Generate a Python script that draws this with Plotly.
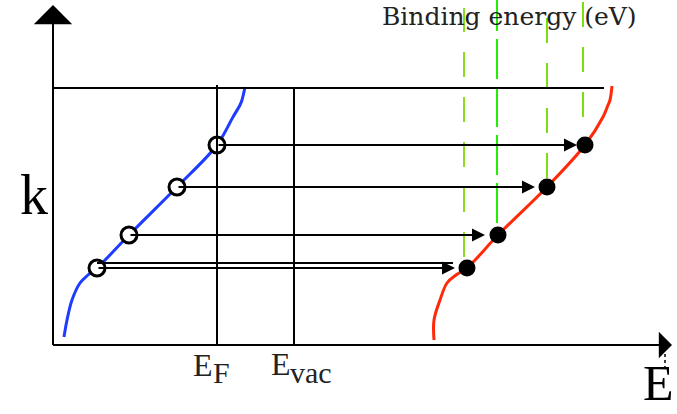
import plotly.graph_objects as go

# Schematic coordinates: energy (horizontal) and k (vertical), arbitrary units
# --- Initial-state band (blue) ---
band_E = [11, 14, 19, 27, 35, 44, 76, 124, 164, 180, 187, 189, 192]
band_k = [8, 25, 45, 62, 70, 77, 110, 158, 200, 228, 240, 245, 258]
# --- Photoemitted band (red) ---
photo_E = [381, 381, 387, 394, 403, 414, 445, 494, 532, 550, 555, 557, 559]
photo_k = [5, 25, 45, 62, 70, 77, 110, 158, 200, 228, 240, 245, 259]
# --- States (open circles) and photoelectrons (filled dots) ---
state_E = [44, 76, 124, 164]
state_k = [77, 110, 158, 200]
elec_E = [414, 445, 494, 532]
arrow_tip_E = [402, 432, 482, 524]
# extra parallel line at lowest state
double_k = 82
double_end_E = 400
# --- Reference levels ---
E_F = 164
E_vac = 241
k_top = 257
top_end_E = 551
axis_E_end = 619
axis_k_end = 340
# --- Binding-energy guides (green dashed) ---
guide_E = [411, 444, 494, 530]
guide_k_low = [88, 122, 167, 228]
guide_k_high = [337, 345, 335, 345]
guide_colors = ["#8ddc22", "#22ee00", "#7ade10", "#7ade10"]

fig = go.Figure()

black = "#000000"
shapes = []
# axes
shapes.append(dict(type="line", x0=0, x1=axis_E_end - 25, y0=0, y1=0, line=dict(color=black, width=2)))
shapes.append(dict(type="line", x0=0, x1=0, y0=0, y1=axis_k_end - 25, line=dict(color=black, width=2)))
# top line
shapes.append(dict(type="line", x0=0, x1=top_end_E, y0=k_top, y1=k_top, line=dict(color=black, width=2)))
# E_F and E_vac verticals
shapes.append(dict(type="line", x0=E_F, x1=E_F, y0=0, y1=k_top + 3, line=dict(color=black, width=2)))
shapes.append(dict(type="line", x0=E_vac, x1=E_vac, y0=0, y1=k_top, line=dict(color=black, width=2)))
# double line
shapes.append(dict(type="line", x0=state_E[0], x1=double_end_E, y0=double_k, y1=double_k, line=dict(color=black, width=2)))
# green guides
for gx, kl, kh, c in zip(guide_E, guide_k_low, guide_k_high, guide_colors):
    shapes.append(dict(type="line", x0=gx, x1=gx, y0=kl, y1=kh, layer="below",
                       line=dict(color=c, width=2, dash="25px,20px" if c != "#22ee00" else "40px,8px")))
# small dotted tick above bottom-right E
shapes.append(dict(type="line", x0=612, x1=612, y0=-3, y1=-22, line=dict(color=black, width=1.5, dash="dot")))

fig.update_layout(shapes=shapes)

# curves
fig.add_trace(go.Scatter(x=band_E, y=band_k, mode="lines", line=dict(color="#1e3cff", width=3, shape="spline"),
                         hoverinfo="skip"))
fig.add_trace(go.Scatter(x=photo_E, y=photo_k, mode="lines", line=dict(color="#ff2a0a", width=3, shape="spline"),
                         hoverinfo="skip"))

annotations = []
# horizontal transition arrows
for sE, k, tE in zip(state_E, state_k, arrow_tip_E):
    annotations.append(dict(x=tE, y=k, ax=sE, ay=k, xref="x", yref="y", axref="x", ayref="y",
                            showarrow=True, arrowhead=2, arrowsize=1.3, arrowwidth=2, arrowcolor=black,
                            standoff=0, startstandoff=0, text=""))
# axis arrows
annotations.append(dict(x=0, y=axis_k_end, ax=0, ay=axis_k_end - 30, xref="x", yref="y", axref="x", ayref="y",
                        showarrow=True, arrowhead=1, arrowsize=3.2, arrowwidth=2, arrowcolor=black, text=""))
annotations.append(dict(x=axis_E_end, y=0, ax=axis_E_end - 30, ay=0, xref="x", yref="y", axref="x", ayref="y",
                        showarrow=True, arrowhead=1, arrowsize=2.2, arrowwidth=2, arrowcolor=black, text=""))
fig.update_layout(annotations=annotations)

# markers
fig.add_trace(go.Scatter(x=state_E, y=state_k, mode="markers",
                         marker=dict(size=16, color="white", line=dict(color=black, width=3)), hoverinfo="skip"))
fig.add_trace(go.Scatter(x=elec_E, y=state_k, mode="markers",
                         marker=dict(size=17, color=black), hoverinfo="skip"))

serif = "Liberation Serif"
texts = [
    dict(x=456, y=329, text="Binding energy (eV)", size=25, color="#222222", family="DejaVu Serif"),
    dict(x=-19, y=150, text="k", size=56, color=black, family=serif),
    dict(x=150, y=-20, text="E", size=32, color="#222222", family=serif),
    dict(x=168, y=-27, text="F", size=30, color="#222222", family=serif),
    dict(x=228, y=-19, text="E", size=32, color="#222222", family=serif),
    dict(x=258, y=-27, text="vac", size=30, color="#222222", family=serif),
    dict(x=605, y=-38, text="E", size=50, color=black, family=serif),
]
for t in texts:
    fig.add_annotation(x=t["x"], y=t["y"], text=t["text"], showarrow=False, xref="x", yref="y",
                       font=dict(family=t["family"], size=t["size"], color=t["color"]))

fig.update_layout(
    width=677, height=414, margin=dict(l=0, r=0, t=0, b=0),
    paper_bgcolor="white", plot_bgcolor="white", showlegend=False,
    xaxis=dict(range=[-53, 624], visible=False, fixedrange=True),
    yaxis=dict(range=[-69, 345], visible=False, fixedrange=True),
)
fig.write_html("out.html")
